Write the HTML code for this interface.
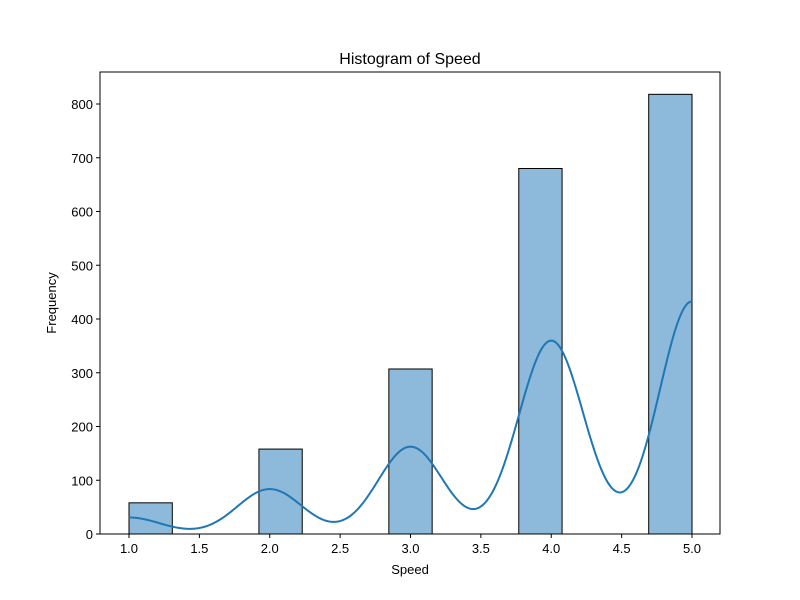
<!DOCTYPE html>
<html><head><meta charset="utf-8"><style>
body{margin:0;background:#fff;}
svg{display:block;font-family:"Liberation Sans","DejaVu Sans",sans-serif;}
</style></head><body>
<svg id="chart" width="800" height="600">
<text x="410" y="64" text-anchor="middle" font-size="16">Histogram of Speed</text>
<text x="410" y="574" text-anchor="middle" font-size="13">Speed</text>
<text transform="translate(56,303) rotate(-90)" text-anchor="middle" font-size="13">Frequency</text>
<g id="bars"></g><g id="curve"></g><g id="axes"></g>
</svg>
<script>
const speedValues = [1, 2, 3, 4, 5];
const counts = [58, 158, 307, 680, 818];
const xTicks = [1.0, 1.5, 2.0, 2.5, 3.0, 3.5, 4.0, 4.5, 5.0];
const yTicks = [0, 100, 200, 300, 400, 500, 600, 700, 800];
const binCount = 13;
const bandwidth = 0.232;

const NS = "http://www.w3.org/2000/svg";
const L = 100, R = 720, T = 72, B = 534;
const xs = v => 129 + (v - 1) * 140.75;
const ys = v => 534 - v * 0.5375;
function mk(tag, attrs, parent) {
  const e = document.createElementNS(NS, tag);
  for (const k in attrs) e.setAttribute(k, attrs[k]);
  parent.appendChild(e); return e;
}
const bw = (5 - 1) / binCount;
const barsG = document.getElementById('bars');
speedValues.forEach((v, i) => {
  let b = Math.min(binCount - 1, Math.floor((v - 1) / bw));
  const x0 = 1 + b * bw;
  const r = mk('rect', {x: xs(x0), y: ys(counts[i]), width: xs(x0 + bw) - xs(x0), height: ys(0) - ys(counts[i]),
    fill: '#8db9da', stroke: '#000', 'stroke-width': 1}, barsG);
  
  
});
// KDE scaled to counts
let d = '';
for (let k = 0; k <= 400; k++) {
  const x = 1 + 4 * k / 400;
  let y = 0;
  speedValues.forEach((v, i) => {
    const z = (x - v) / bandwidth;
    y += counts[i] * bw * Math.exp(-0.5 * z * z) / (bandwidth * Math.sqrt(2 * Math.PI));
  });
  d += (k ? 'L' : 'M') + xs(x).toFixed(2) + ',' + ys(y).toFixed(2);
}
const kde = mk('path', {d: d, fill: 'none', stroke: '#1f77b4', 'stroke-width': 2}, document.getElementById('curve'));


const ax = document.getElementById('axes');
const frame = mk('rect', {x: L, y: T, width: R - L, height: B - T, fill: 'none', stroke: '#000', 'stroke-width': 1}, ax);


xTicks.forEach(t => {
  mk('line', {x1: xs(t), x2: xs(t), y1: B, y2: B + 4, stroke: '#000'}, ax);
  const tx = mk('text', {x: xs(t), y: B + 19, 'text-anchor': 'middle', 'font-size': 13}, ax);
  tx.textContent = t.toFixed(1);
  
  
});
yTicks.forEach(t => {
  mk('line', {x1: L - 4, x2: L, y1: ys(t), y2: ys(t), stroke: '#000'}, ax);
  const tx = mk('text', {x: L - 7, y: ys(t) + 5, 'text-anchor': 'end', 'font-size': 13}, ax);
  tx.textContent = t;
  
  
});
</script>
</body></html>
